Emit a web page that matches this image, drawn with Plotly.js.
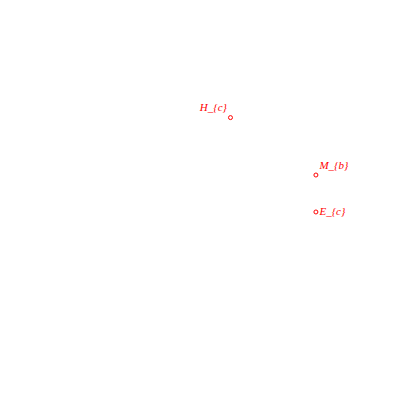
<!DOCTYPE html>
<html>
<head>
<meta charset="utf-8">
<script src="https://cdn.plot.ly/plotly-3.0.1.min.js"></script>
<style>html,body{margin:0;padding:0;background:#fff;}#chart{width:400px;height:400px;}</style>
</head>
<body>
<div id="chart"></div>
<script>
const labels = ["H_{c}", "M_{b}", "E_{c}"];
const xValues = [0.627, 0.983, 0.983];
const yValues = [0.92, 0.659, 0.491];
const textPositions = ["top left", "top right", "middle right"];

const trace = {
  x: xValues,
  y: yValues,
  text: labels,
  mode: "markers+text",
  type: "scatter",
  cliponaxis: false,
  textposition: textPositions,
  marker: { symbol: "circle-open", size: 4, color: "red", line: { width: 1 } },
  textfont: { family: "Liberation Serif", size: 11, color: "red", style: "italic" },
  hoverinfo: "none",
};

const layout = {
  width: 400,
  height: 400,
  margin: { l: 80, r: 80, t: 100, b: 80 },
  xaxis: { range: [0, 1], visible: false },
  yaxis: { range: [0, 1], visible: false },
  showlegend: false,
  paper_bgcolor: "white",
  plot_bgcolor: "white",
};

Plotly.newPlot("chart", [trace], layout, { displayModeBar: false });
</script>
</body>
</html>
